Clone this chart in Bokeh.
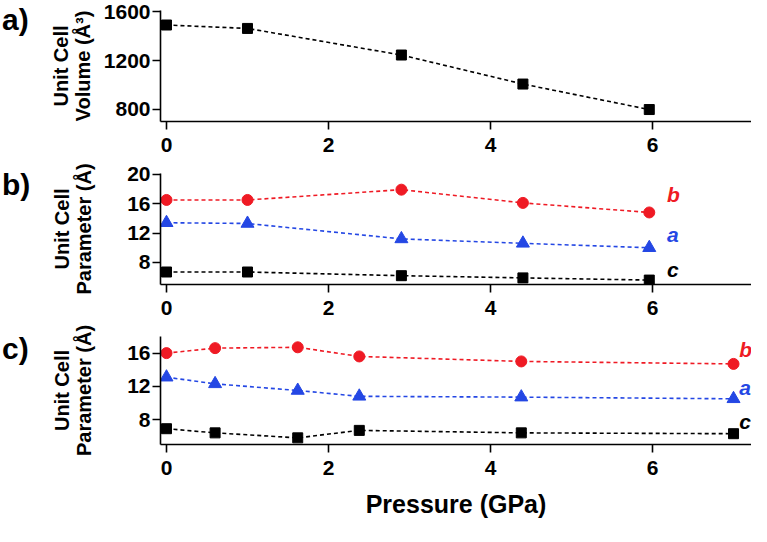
from bokeh.plotting import figure
from bokeh.layouts import column, row
from bokeh.models import FixedTicker, ColumnDataSource, Range1d
from bokeh.core.properties import value
from bokeh.embed import file_html
from bokeh.resources import INLINE

# ---- data ----
xa = [0.0, 1.0, 2.9, 4.4, 5.96]
vol = [1491, 1463, 1245, 1007, 798]

xb = [0.0, 1.0, 2.9, 4.4, 5.96]
b_b = [16.5, 16.5, 17.9, 16.1, 14.8]
b_a = [13.4, 13.3, 11.2, 10.6, 10.0]
b_c = [6.7, 6.7, 6.2, 5.9, 5.6]

xc = [0.0, 0.6, 1.62, 2.38, 4.38, 7.0]
c_b = [16.0, 16.6, 16.7, 15.6, 15.0, 14.7]
c_a = [13.1, 12.3, 11.5, 10.8, 10.7, 10.5]
c_c = [6.9, 6.4, 5.8, 6.7, 6.4, 6.3]

x_ticks = [0, 2, 4, 6]
ya_ticks = [800, 1200, 1600]
yb_ticks = [8, 12, 16, 20]
yc_ticks = [8, 12, 16]

series_names = ["b", "a", "c"]
lab_b_x = [6.18, 6.18, 6.18]
lab_b_y = [17.3, 11.8, 7.1]
lab_c_x = [7.07, 7.07, 7.07]
lab_c_y = [16.4, 11.9, 7.75]

panel_letters = ["a)", "b)", "c)"]

RED = "#ef1a24"
BLUE = "#2447e4"
BLACK = "#000000"
FONT = "Liberation Sans"
XR = (-0.074, 7.222)
LW = 36          # width of the letter strip
W = 751 - LW
H_A, H_B, H_C = 161, 163, 202


def base_fig(height, top, bottom, y_range, yticks, ylabel, label_standoff):
    p = figure(width=W, height=height, x_range=XR, y_range=y_range,
               output_backend="svg", toolbar_location=None,
               min_border_left=160 - LW, min_border_right=0,
               min_border_top=top, min_border_bottom=bottom)
    p.outline_line_color = None
    p.grid.grid_line_color = None
    for ax in (p.xaxis[0], p.yaxis[0]):
        ax.axis_line_width = 1.6
        ax.axis_line_color = "black"
        ax.major_tick_line_width = 1.6
        ax.major_tick_out = 8
        ax.major_tick_in = 0
        ax.minor_tick_line_color = None
        ax.major_label_text_font = FONT
        ax.major_label_text_font_style = "bold"
        ax.major_label_text_font_size = "21px"
        ax.major_label_text_color = "black"
    p.xaxis.ticker = FixedTicker(ticks=x_ticks)
    p.yaxis.ticker = FixedTicker(ticks=yticks)
    p.xaxis.major_label_standoff = 8
    p.yaxis.major_label_standoff = 2
    p.yaxis.axis_label = ylabel
    p.yaxis.axis_label_text_font = FONT
    p.yaxis.axis_label_text_font_style = "bold"
    p.yaxis.axis_label_text_font_size = "20px"
    p.yaxis.axis_label_text_line_height = 1.0
    p.yaxis.axis_label_text_color = "black"
    p.yaxis.axis_label_standoff = label_standoff
    return p


def series(p, x, y, color, marker, size):
    p.line(x, y, line_color=color, line_width=1.6, line_dash="4 3")
    p.scatter(x, y, marker=marker, size=size, fill_color=color, line_color=color)


def end_labels(p, xs, ys):
    src = ColumnDataSource(dict(x=xs, y=ys, t=series_names, c=[RED, BLUE, BLACK]))
    p.text(x="x", y="y", text="t", source=src, text_color="c",
           text_font=value(FONT), text_font_style="bold italic",
           text_font_size="21px", text_align="left", text_baseline="middle")


# ---- panel a ----
pa = base_fig(H_A, 10, 40, (700, 1610), ya_ticks, "Unit Cell\nVolume (Å³)", 7)
series(pa, xa, vol, BLACK, "square", 10)

# ---- panel b ----
pb = base_fig(H_B, 12, 40, (5, 20.1), yb_ticks, "Unit Cell\nParameter (Å)", 29)
series(pb, xb, b_b, RED, "circle", 11)
series(pb, xb, b_a, BLUE, "triangle", 13)
series(pb, xb, b_c, BLACK, "square", 10)
end_labels(pb, lab_b_x, lab_b_y)

# ---- panel c ----
pc = base_fig(H_C, 12, 82, (5, 18), yc_ticks, "Unit Cell\nParameter (Å)", 29)
series(pc, xc, c_b, RED, "circle", 11)
series(pc, xc, c_a, BLUE, "triangle", 13)
series(pc, xc, c_c, BLACK, "square", 10)
end_labels(pc, lab_c_x, lab_c_y)
pc.xaxis.axis_label = "Pressure (GPa)"
pc.xaxis.axis_label_text_font = FONT
pc.xaxis.axis_label_text_font_style = "bold"
pc.xaxis.axis_label_text_font_size = "25px"
pc.xaxis.axis_label_text_color = "black"
pc.xaxis.axis_label_standoff = 12

# ---- letter strip (a), b), c)) ----
total_h = H_A + H_B + H_C
pl = figure(width=LW, height=total_h, x_range=Range1d(0, LW),
            y_range=Range1d(total_h, 0), output_backend="svg",
            toolbar_location=None, min_border=0,
            x_axis_location=None, y_axis_location=None)
pl.outline_line_color = None
pl.grid.grid_line_color = None
letter_src = ColumnDataSource(dict(x=[1.5, 1.5, 1.5],
                                   y=[19, H_A + 23, H_A + H_B + 24],
                                   t=panel_letters))
pl.text(x="x", y="y", text="t", source=letter_src, text_color="black",
        text_font=value(FONT), text_font_style="bold", text_font_size="30px",
        text_align="left", text_baseline="middle")

layout = row(pl, column(pa, pb, pc, spacing=0), spacing=0)
open("out.html", "w").write(file_html(layout, INLINE))
